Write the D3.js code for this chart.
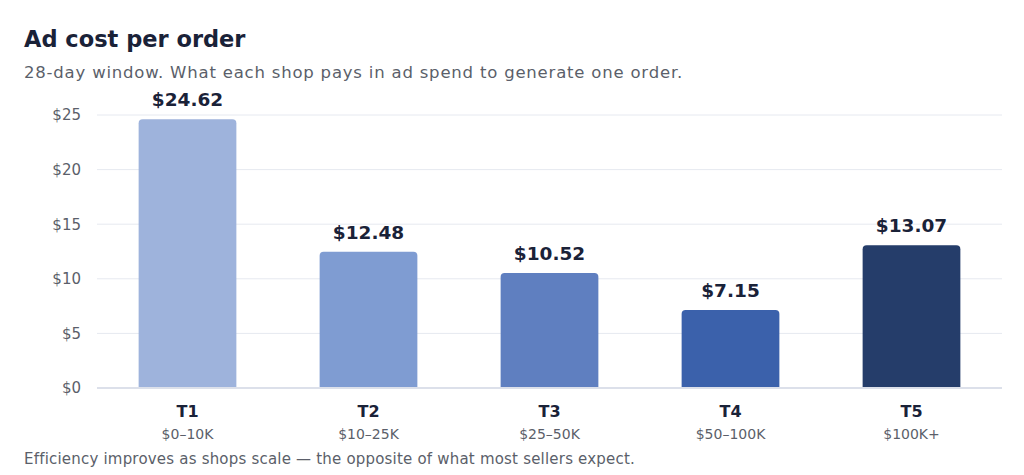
<!DOCTYPE html>
<html>
<head>
<meta charset="utf-8">
<script src="https://cdn.jsdelivr.net/npm/d3@7"></script>
<style>
  body { margin: 0; background: #fff; }
  svg { display: block; font-family: "DejaVu Sans", sans-serif; }
</style>
</head>
<body>
<div id="chart"></div>
<script>
// Chart size
const width = 1024;
const height = 475;

// Data
const tiers = ['T1', 'T2', 'T3', 'T4', 'T5'];
const ranges = ['$0–10K', '$10–25K', '$25–50K', '$50–100K', '$100K+'];
const costs = [24.62, 12.48, 10.52, 7.15, 13.07];
const colors = ['#9eb3dc', '#7f9cd2', '#5f7fc0', '#3b61ab', '#253d6a'];
const yTicks = [0, 5, 10, 15, 20, 25];

const rows = tiers.map((t, i) => ({ tier: t, range: ranges[i], cost: costs[i], color: colors[i] }));

// Plot area
const plotLeft = 97, plotRight = 1002, plotTop = 115, plotBottom = 388;

const x = d3.scaleBand()
    .domain(tiers)
    .range([plotLeft, plotRight])
    .paddingInner(0.46)
    .paddingOuter(0.23);

const y = d3.scaleLinear()
    .domain([0, 25])
    .range([plotBottom, plotTop]);

const svg = d3.select('#chart')
    .append('svg')
    .attr('width', width)
    .attr('height', height);

// Title and subtitle
svg.append('text')
    .attr('x', 24)
    .attr('y', 47)
    .attr('font-size', 22.5)
    .attr('font-weight', 700)
    .attr('fill', '#1a2238')
    .text('Ad cost per order');

svg.append('text')
    .attr('x', 24)
    .attr('y', 78)
    .attr('font-size', 16.5)
    .attr('letter-spacing', 0.8)
    .attr('fill', '#5b5f6a')
    .text('28-day window. What each shop pays in ad spend to generate one order.');

// Gridlines
svg.append('g')
    .selectAll('line')
    .data(yTicks.filter(d => d > 0))
    .enter()
    .append('line')
    .attr('x1', plotLeft)
    .attr('x2', plotRight)
    .attr('y1', d => y(d))
    .attr('y2', d => y(d))
    .attr('stroke', '#e6e9f0')
    .attr('stroke-width', 1);

// Y axis (labels only)
const yAxis = d3.axisLeft(y)
    .tickValues(yTicks)
    .tickFormat(d => '$' + d)
    .tickSize(0)
    .tickPadding(0);

const yg = svg.append('g')
    .attr('transform', `translate(81, 0)`)
    .call(yAxis);
yg.select('.domain').remove();
yg.selectAll('text')
    .attr('font-size', 15)
    .attr('font-family', '"DejaVu Sans", sans-serif')
    .attr('fill', '#5b5f6a');

// Bars with rounded top corners
const r = 4;
svg.append('g')
    .selectAll('path')
    .data(rows)
    .enter()
    .append('path')
    .attr('fill', d => d.color)
    .attr('d', d => {
        const x0 = x(d.tier), w = x.bandwidth();
        const yt = y(d.cost), yb = y(0);
        return `M${x0},${yb}V${yt + r}Q${x0},${yt} ${x0 + r},${yt}H${x0 + w - r}Q${x0 + w},${yt} ${x0 + w},${yt + r}V${yb}Z`;
    });

// Baseline
svg.append('line')
    .attr('x1', plotLeft)
    .attr('x2', plotRight)
    .attr('y1', y(0))
    .attr('y2', y(0))
    .attr('stroke', '#dce0ea')
    .attr('stroke-width', 2);

// Value labels
svg.append('g')
    .selectAll('text')
    .data(rows)
    .enter()
    .append('text')
    .attr('x', d => x(d.tier) + x.bandwidth() / 2)
    .attr('y', d => y(d.cost) - 13)
    .attr('text-anchor', 'middle')
    .attr('font-size', 18.5)
    .attr('font-weight', 700)
    .attr('fill', '#1a2238')
    .text(d => '$' + d.cost.toFixed(2));

// X axis: tier and range
const xAxis = d3.axisBottom(x).tickSize(0).tickPadding(0).tickFormat(() => '');
const xg = svg.append('g')
    .attr('transform', `translate(0, ${plotBottom})`)
    .call(xAxis);
xg.select('.domain').remove();

xg.selectAll('.tick')
    .append('text')
    .attr('y', 29)
    .attr('text-anchor', 'middle')
    .attr('font-size', 16)
    .attr('font-weight', 700)
    .attr('font-family', '"DejaVu Sans", sans-serif')
    .attr('fill', '#1a2238')
    .text(d => d);

xg.selectAll('.tick')
    .append('text')
    .attr('y', 51)
    .attr('text-anchor', 'middle')
    .attr('font-size', 14)
    .attr('font-family', '"DejaVu Sans", sans-serif')
    .attr('fill', '#5b5f6a')
    .text(d => ranges[tiers.indexOf(d)]);

// Footer note
svg.append('text')
    .attr('x', 24)
    .attr('y', 464)
    .attr('font-size', 15)
    .attr('letter-spacing', 0.2)
    .attr('fill', '#5b5f6a')
    .text('Efficiency improves as shops scale — the opposite of what most sellers expect.');
</script>
</body>
</html>
